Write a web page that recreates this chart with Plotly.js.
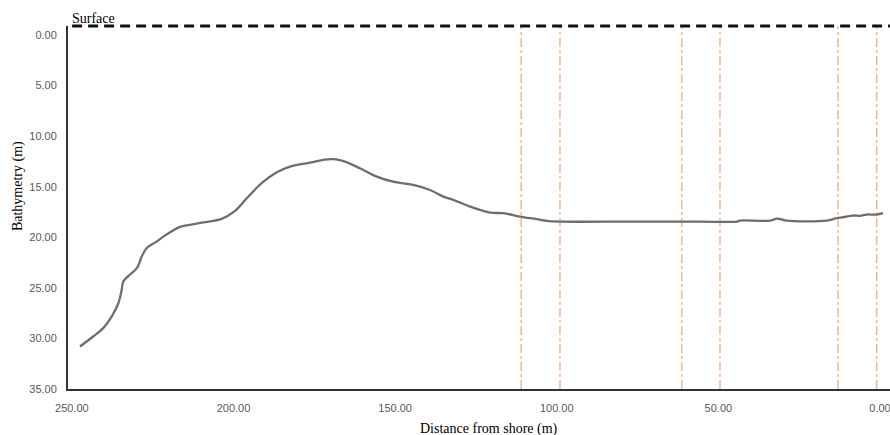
<!DOCTYPE html>
<html>
<head>
<meta charset="utf-8">
<script src="https://cdn.plot.ly/plotly-3.0.1.min.js"></script>
<style>html,body{margin:0;padding:0;background:#fff;}#chart{width:890px;height:435px;}</style>
</head>
<body>
<div id="chart"></div>
<script>
// Distance from shore (m)
var distance = [247.5, 243.4, 240.3, 237.7, 235.6, 234.6, 234.1, 232.5, 229.9, 228.4, 226.9, 223.8, 221.7, 219.6, 216.6, 213.5, 209.3, 203.7, 199.5, 195.9, 191.3, 186.6, 182.5, 176.3, 170.1, 166.5, 160.9, 155.7, 150.6, 144.4, 139.2, 135.1, 132.0, 126.8, 120.6, 116.5, 111.4, 106.2, 103.1, 99.0, 75.8, 55.7, 44.3, 43.3, 33.9, 31.9, 30.8, 28.9, 16.5, 13.4, 11.4, 8.4, 6.2, 4.1, 1.0, -0.9];
// Bathymetry (m)
var depth = [30.80, 29.81, 28.98, 27.84, 26.51, 25.20, 24.38, 23.81, 23.05, 21.91, 21.08, 20.43, 19.93, 19.50, 18.97, 18.77, 18.53, 18.18, 17.39, 16.14, 14.65, 13.57, 13.01, 12.62, 12.28, 12.42, 13.17, 14.00, 14.50, 14.82, 15.32, 15.98, 16.30, 16.97, 17.56, 17.62, 17.95, 18.21, 18.38, 18.45, 18.45, 18.45, 18.45, 18.35, 18.35, 18.15, 18.20, 18.35, 18.35, 18.11, 18.01, 17.85, 17.88, 17.75, 17.75, 17.62];
// Transect marker positions (m from shore)
var markers = [111, 99, 61.3, 49.5, 13, 1];
var yTicks = [0, 5, 10, 15, 20, 25, 30, 35];
var xTicks = [250, 200, 150, 100, 50, 0];

var traces = [{
  x: distance, y: depth, type: 'scatter', mode: 'lines',
  line: {color: '#6e6e6e', width: 2.3, shape: 'spline', smoothing: 1.0},
  hoverinfo: 'x+y', showlegend: false
}];

var shapes = markers.map(function (m) {
  return {type: 'line', xref: 'x', yref: 'paper', x0: m, x1: m, y0: 0, y1: 1,
          line: {color: '#f4a46c', width: 1.2, dash: 'dashdot'}, layer: 'below'};
});
shapes.push({type: 'line', xref: 'paper', yref: 'paper', x0: 0.005, x1: 1, y0: 1, y1: 1,
             line: {color: '#111', width: 3, dash: '10px,6px'}});

var serif = 'Liberation Serif, Times New Roman, serif';
var layout = {
  width: 890, height: 435,
  margin: {l: 68, r: 0, t: 26, b: 46},
  paper_bgcolor: '#fff', plot_bgcolor: '#fff',
  xaxis: {
    range: [251.2, -3.1], tickvals: xTicks, tickformat: '.2f',
    showgrid: false, zeroline: false, showline: true, linecolor: '#333', linewidth: 2,
    ticks: '', ticklabelstandoff: 8, ticklabeloverflow: 'allow',
    tickfont: {family: 'Liberation Sans, Arial, sans-serif', size: 11, color: '#595959'}
  },
  yaxis: {
    range: [35, -0.89], tickvals: yTicks, tickformat: '.2f',
    showgrid: false, zeroline: false, showline: true, linecolor: '#333', linewidth: 2,
    ticks: '', ticklabelstandoff: 7,
    tickfont: {family: 'Liberation Sans, Arial, sans-serif', size: 11, color: '#595959'}
  },
  shapes: shapes,
  annotations: [
    {text: 'Surface', xref: 'paper', yref: 'paper', x: 0.003, y: 1, xanchor: 'left', yanchor: 'bottom',
     yshift: -2, showarrow: false, font: {family: serif, size: 14, color: '#000'}},
    {text: 'Bathymetry (m)', xref: 'paper', yref: 'paper', x: -0.0608, xanchor: 'center',
     y: 0.559, yanchor: 'middle', textangle: -90, showarrow: false,
     font: {family: serif, size: 14, color: '#000'}},
    {text: 'Distance from shore (m)', xref: 'paper', yref: 'paper', x: 0.5125, xanchor: 'center',
     y: -0.11, yanchor: 'middle', showarrow: false,
     font: {family: serif, size: 14, color: '#000'}}
  ]
};

Plotly.newPlot('chart', traces, layout, {displayModeBar: false, staticPlot: true});
</script>
</body>
</html>
